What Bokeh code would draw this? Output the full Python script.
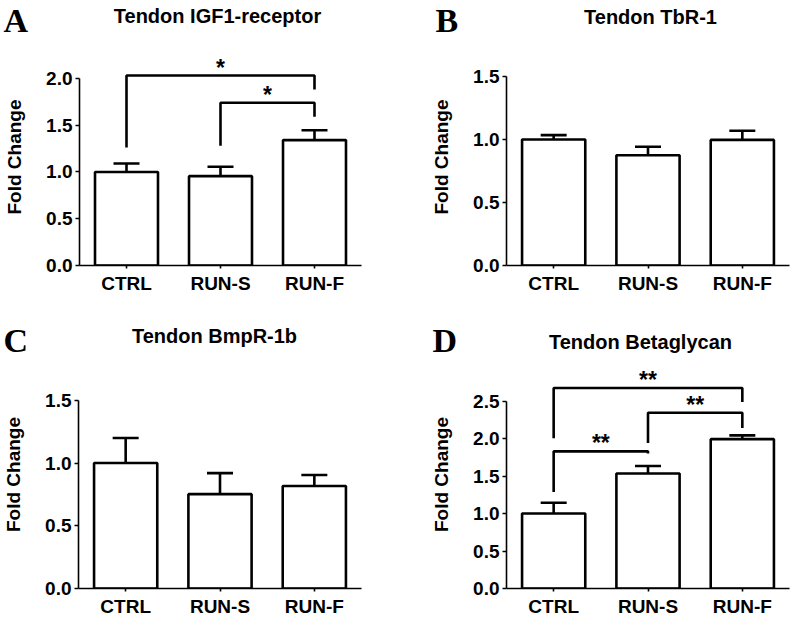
from bokeh.plotting import figure
from bokeh.layouts import column, row
from bokeh.models import (Range1d, FixedTicker, NumeralTickFormatter, Whisker,
                          TeeHead, ColumnDataSource)
from bokeh.core.properties import value
from bokeh.embed import file_html
from bokeh.resources import INLINE

categories = ["CTRL", "RUN-S", "RUN-F"]

# Panel A: Tendon IGF1-receptor
igf1_mean = [1.00, 0.955, 1.34]
igf1_sem = [0.09, 0.10, 0.105]
igf1_sig = [(0, 2), (1, 2)]
igf1_sig_y = [2.03, 1.74]
igf1_sig_legs = [(1.26, 1.88), (1.28, 1.59)]
igf1_sig_text = ["*", "*"]

# Panel B: Tendon TbR-1
tbr1_mean = [1.00, 0.875, 0.997]
tbr1_sem = [0.035, 0.067, 0.072]

# Panel C: Tendon BmpR-1b
bmpr_mean = [1.00, 0.752, 0.817]
bmpr_sem = [0.20, 0.168, 0.088]

# Panel D: Tendon Betaglycan
beta_mean = [1.00, 1.534, 1.993]
beta_sem = [0.145, 0.10, 0.05]
beta_sig = [(0, 2), (1, 2), (0, 1)]
beta_sig_y = [2.676, 2.345, 1.83]
beta_sig_legs = [(2.006, 2.49), (1.94, 2.14), (1.287, 1.80)]
beta_sig_text = ["**", "**", "**"]

SANS = "Liberation Sans"
SERIF = "Liberation Serif"
FS = "19px"


def header(letter, title, width, height, letter_x, letter_y, title_x, title_y):
    h = figure(width=width, height=height, output_backend="svg",
               toolbar_location=None, x_range=Range1d(0, width),
               y_range=Range1d(0, height), x_axis_type=None, y_axis_type=None,
               min_border=0, min_border_left=0, min_border_right=0,
               min_border_top=0, min_border_bottom=0)
    h.outline_line_color = None
    h.background_fill_color = "white"
    h.border_fill_color = "white"
    h.text([letter_x], [letter_y], text=[letter], text_font=value(SERIF),
           text_font_size="34px", text_font_style="bold", text_color="black",
           text_align="left", text_baseline="alphabetic")
    h.text([title_x], [title_y], text=[title], text_font=value(SANS),
           text_font_size="20px", text_font_style="bold", text_color="black",
           text_align="center", text_baseline="alphabetic")
    return h


def panel(means, sems, yticks, ymax, width, height,
          left, right, top, bottom,
          sig=None, sig_y=None, sig_legs=None, sig_text=None):
    n = len(categories)
    xs = [i + 0.5 for i in range(n)]
    p = figure(width=width, height=height, output_backend="svg",
               toolbar_location=None, x_range=Range1d(0, n),
               y_range=Range1d(0, ymax), min_border_left=left,
               min_border_right=right, min_border_top=top,
               min_border_bottom=bottom)
    p.outline_line_color = None
    p.grid.visible = False
    p.background_fill_color = "white"
    p.border_fill_color = "white"

    src = ColumnDataSource(dict(x=xs, top=means,
                                upper=[m + s for m, s in zip(means, sems)]))
    p.vbar(x="x", top="top", bottom=0, width=0.67, source=src,
           fill_color="white", line_color="black", line_width=2.6)
    wh = Whisker(base="x", lower="top", upper="upper", source=src,
                 line_width=2.6, line_color="black",
                 upper_head=TeeHead(size=26, line_width=2.6, line_color="black"),
                 lower_head=None)
    p.add_layout(wh)

    if sig:
        for (a, b), yb, (la, lb), t in zip(sig, sig_y, sig_legs, sig_text):
            p.line([xs[a], xs[a], xs[b], xs[b]], [la, yb, yb, lb],
                   line_color="black", line_width=2.6)
            p.text([(xs[a] + xs[b]) / 2], [yb], text=[t],
                   text_align="center", text_baseline="alphabetic",
                   y_offset=-8, text_font=value(SANS),
                   text_font_size="23px", text_font_style="bold",
                   text_color="black")

    xa = p.xaxis[0]
    xa.ticker = FixedTicker(ticks=xs)
    xa.major_label_overrides = {x: c for x, c in zip(xs, categories)}
    xa.major_label_text_font = SANS
    xa.major_label_text_font_size = FS
    xa.major_label_text_font_style = "bold"
    xa.major_label_text_color = "black"
    xa.major_label_standoff = 4
    xa.major_tick_in = 0
    xa.major_tick_out = 3
    xa.minor_tick_line_color = None
    xa.axis_line_width = 1.6
    xa.major_tick_line_width = 1.6
    xa.axis_line_color = "black"
    xa.major_tick_line_color = "black"

    ya = p.yaxis[0]
    ya.ticker = FixedTicker(ticks=yticks)
    ya.formatter = NumeralTickFormatter(format="0.0")
    ya.bounds = (0, yticks[-1])
    ya.major_label_text_font = SANS
    ya.major_label_text_font_size = FS
    ya.major_label_text_font_style = "bold"
    ya.major_label_text_color = "black"
    ya.major_label_standoff = 3
    ya.major_tick_in = 0
    ya.major_tick_out = 4
    ya.minor_tick_line_color = None
    ya.axis_line_width = 1.6
    ya.major_tick_line_width = 1.6
    ya.axis_line_color = "black"
    ya.major_tick_line_color = "black"
    ya.axis_label = "Fold Change"
    ya.axis_label_text_font = SANS
    ya.axis_label_text_font_size = FS
    ya.axis_label_text_font_style = "bold"
    ya.axis_label_text_color = "black"
    ya.axis_label_standoff = 18
    return p


# header rows: page y 0..40 and 300..359
hA = header("A", "Tendon IGF1-receptor", 428, 40, 3, 20.5, 217, 25)
hB = header("B", "Tendon TbR-1", 366, 40, 7, 20.5, 222, 24)
hC = header("C", "Tendon BmpR-1b", 428, 59, 3, 19.5, 214, 24)
hD = header("D", "Tendon Betaglycan", 366, 59, 4, 19.5, 212, 18)

# body rows: page y 40..300 and 359..619
pA = panel(igf1_mean, igf1_sem, [0, 0.5, 1.0, 1.5, 2.0],
           (266 - 48) / 94.0, 428, 260, 79, 67, 8, 34,
           igf1_sig, igf1_sig_y, igf1_sig_legs, igf1_sig_text)
pB = panel(tbr1_mean, tbr1_sem, [0, 0.5, 1.0, 1.5],
           (265 - 48) / 126.0, 366, 260, 78, 5, 8, 35)
pC = panel(bmpr_mean, bmpr_sem, [0, 0.5, 1.0, 1.5],
           (589 - 360) / 126.0, 428, 260, 77, 67, 1, 30)
pD = panel(beta_mean, beta_sem, [0, 0.5, 1.0, 1.5, 2.0, 2.5],
           (590 - 360) / 75.6, 366, 260, 72, 5, 1, 29,
           beta_sig, beta_sig_y, beta_sig_legs, beta_sig_text)

layout = column(row(hA, hB), row(pA, pB), row(hC, hD), row(pC, pD))
open("out.html", "w").write(file_html(layout, INLINE))
